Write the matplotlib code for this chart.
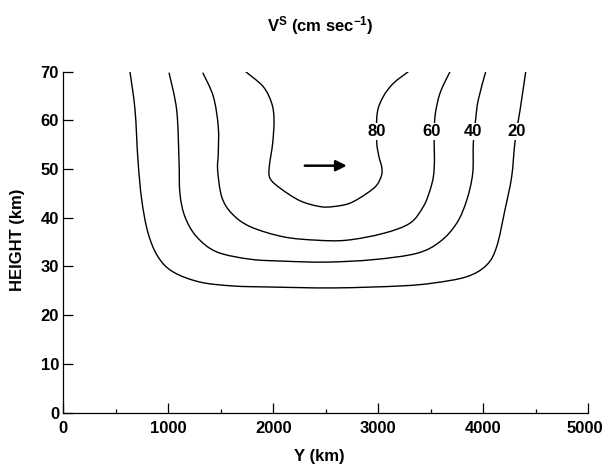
import matplotlib
matplotlib.use("Agg")
import matplotlib.pyplot as plt
import matplotlib.transforms as mtransforms
from matplotlib.path import Path
from matplotlib.patches import PathPatch
import numpy as np

plt.rcParams['font.family'] = ['Liberation Sans', 'DejaVu Sans']
plt.rcParams['font.weight'] = 'bold'
plt.rcParams['mathtext.fontset'] = 'custom'
plt.rcParams['mathtext.rm'] = 'Liberation Sans:bold'
plt.rcParams['mathtext.it'] = 'Liberation Sans:bold'
plt.rcParams['mathtext.bf'] = 'Liberation Sans:bold'

# Isotach traces of V^S: (Y km, height km), running from the upper-left end to the upper-right end
level_20_y = [635, 683, 711, 747, 807, 902, 1045, 1302, 1617, 1940, 2570, 3207, 3524, 3842,
              4032, 4128, 4206, 4270, 4302, 4350, 4404]
level_20_h = [70.0, 62.2, 51.9, 43.7, 36.9, 32.0, 28.9, 26.8, 26.0, 25.8, 25.6, 26.0, 26.6, 27.9,
              30.3, 34.1, 41.6, 48.4, 55.6, 62.1, 70.0]

level_40_y = [1007, 1080, 1102, 1111, 1159, 1270, 1461, 1778, 2095, 2500, 2950, 3366, 3588, 3747,
              3842, 3899, 3905, 3928, 3952, 4023]
level_40_h = [69.8, 62.1, 51.9, 45.0, 40.2, 36.1, 33.0, 31.5, 31.1, 30.9, 31.4, 32.7, 35.1, 38.9,
              43.6, 49.1, 55.3, 60.4, 64.2, 70.0]

level_60_y = [1328, 1429, 1476, 1476, 1470, 1509, 1604, 1778, 2095, 2413, 2700, 3048, 3302, 3429,
              3490, 3525, 3535, 3532, 3540, 3588, 3683]
level_60_h = [69.8, 64.9, 58.7, 53.2, 49.8, 44.3, 40.9, 38.2, 36.1, 35.4, 35.4, 36.8, 38.9, 42.3,
              45.5, 48.5, 52.0, 55.3, 60.8, 65.6, 70.0]

level_80_y = [1737, 1905, 1985, 2007, 1994, 1962, 1969, 2064, 2254, 2445, 2571, 2730, 2890, 2985,
              3032, 3032, 3007, 2985, 2990, 3048, 3143, 3286]
level_80_h = [70.0, 66.9, 63.5, 60.1, 55.3, 50.5, 48.1, 46.1, 43.5, 42.3, 42.3, 43.0, 45.0, 46.7,
              48.8, 50.5, 52.5, 55.6, 61.5, 64.9, 67.6, 70.0]

levels = [20, 40, 60, 80]
label_y = [4318, 3905, 3510, 2980]
label_h = 57.7

# Flow direction arrow
arrow_start = (2300, 50.7)
arrow_end = (2700, 50.7)

x_ticks = [0, 1000, 2000, 3000, 4000, 5000]
x_minor = [500, 1500, 2500, 3500, 4500]
y_ticks = [0, 10, 20, 30, 40, 50, 60, 70]


def smooth_path(xs, ys):
    """Catmull-Rom spline through the trace points, expressed as cubic Bezier segments."""
    p = np.column_stack([xs, ys]).astype(float)
    ext = np.vstack([p[0], p, p[-1]])
    verts = [p[0]]
    codes = [Path.MOVETO]
    for i in range(1, len(ext) - 2):
        p0, p1, p2, p3 = ext[i - 1], ext[i], ext[i + 1], ext[i + 2]
        verts += [p1 + (p2 - p0) / 6.0, p2 - (p3 - p1) / 6.0, p2]
        codes += [Path.CURVE4] * 3
    return Path(verts, codes)


fig = plt.figure(figsize=(6.05, 4.67), dpi=100)
ax = fig.add_axes([0.1046, 0.1165, 0.8678, 0.7300])

traces = [(level_20_y, level_20_h), (level_40_y, level_40_h),
          (level_60_y, level_60_h), (level_80_y, level_80_h)]
for (ys, hs) in traces:
    ax.add_patch(PathPatch(smooth_path(ys, hs), facecolor='none', edgecolor='black',
                           lw=1.0, capstyle='butt'))

for lev, ly in zip(levels, label_y):
    ax.text(ly, label_h, str(lev), ha='center', va='center', fontsize=12, fontweight='bold',
            bbox=dict(facecolor='white', edgecolor='none', pad=0.5), zorder=4)

ax.annotate('', xy=arrow_end, xytext=arrow_start,
            arrowprops=dict(arrowstyle='-|>', color='black', lw=1.8, mutation_scale=16,
                            shrinkA=0, shrinkB=0))

ax.set_xlim(0, 5000)
ax.set_ylim(0, 70)
ax.set_xticks(x_ticks)
ax.set_xticks(x_minor, minor=True)
ax.set_yticks(y_ticks)
ax.set_xticklabels([str(v) for v in x_ticks])
ax.set_yticklabels([str(v) for v in y_ticks])

for side in ('top', 'right'):
    ax.spines[side].set_visible(False)
for side in ('left', 'bottom'):
    ax.spines[side].set_linewidth(0.9)

ax.tick_params(axis='both', which='major', direction='in', length=7, width=0.9,
               labelsize=12, pad=6)
ax.tick_params(axis='y', which='major', pad=3)
ax.tick_params(axis='x', which='minor', direction='in', length=3, width=0.9)
for lbl in ax.get_xticklabels() + ax.get_yticklabels():
    lbl.set_fontweight('bold')

# nudge the last x label so it stays inside the canvas
last = ax.get_xticklabels()[-1]
last.set_transform(last.get_transform() +
                   mtransforms.ScaledTranslation(-3 / 100, 0, fig.dpi_scale_trans))

fig.text(320 / 605, 1 - 26 / 467, r'V$^{\mathregular{S}}$ (cm sec$^{-1}$)', ha='center',
         va='center', fontsize=12, fontweight='bold')
fig.text(319 / 605, 1 - 456 / 467, 'Y (km)', ha='center', va='center', fontsize=12,
         fontweight='bold')
fig.text(18 / 605, 1 - 240 / 467, 'HEIGHT (km)', ha='center', va='center', rotation=90,
         fontsize=12, fontweight='bold')

fig.savefig('out.png', dpi=100, facecolor='white')
